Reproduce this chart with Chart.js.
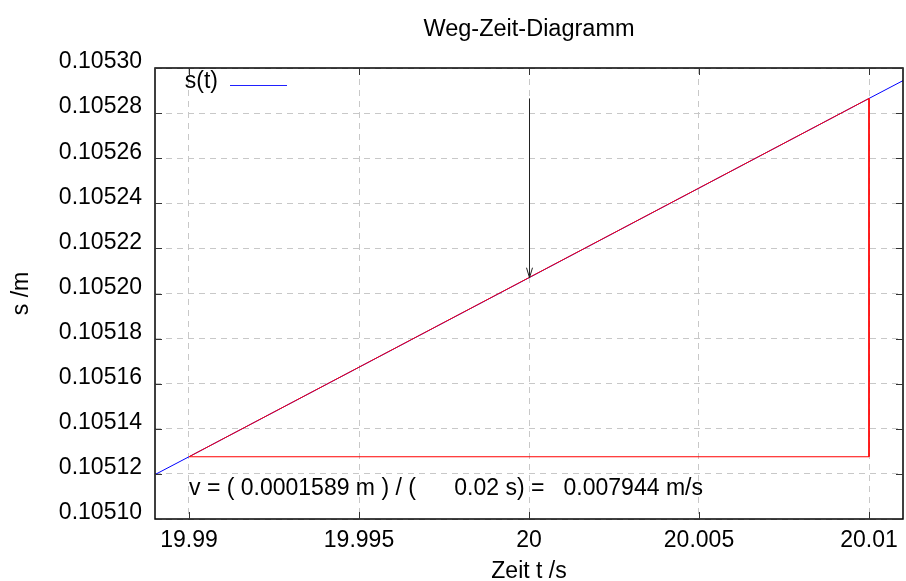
<!DOCTYPE html>
<html>
<head>
<meta charset="utf-8">
<script src="https://cdn.jsdelivr.net/npm/chart.js@4/dist/chart.umd.min.js"></script>
<style>
  html,body{margin:0;padding:0;background:#fff;}
  #wrap{width:906px;height:581px;}
</style>
</head>
<body>
<div id="wrap"><canvas id="chart"></canvas></div>
<script>
// Weg-Zeit-Diagramm: s(t) line with the slope triangle and the readout arrow.

const X_TICKS = [19.99, 19.995, 20, 20.005, 20.01];
const Y_TICKS = [0.10510, 0.10512, 0.10514, 0.10516, 0.10518, 0.10520, 0.10522, 0.10524, 0.10526, 0.10528, 0.10530];

// s(t)
const T_LINE = [19.989, 19.99, 20, 20.01, 20.011];
const S_LINE = [0.1051197, 0.1051276, 0.1052070, 0.1052865, 0.1052944];

// slope triangle (hypotenuse, vertical leg, horizontal leg)
const T_TRI = [19.99, 20.01, 20.01, 19.99];
const S_TRI = [0.1051276, 0.1052865, 0.1051276, 0.1051276];

// arrow pointing at s(20)
const ARROW_T = [20, 20];
const ARROW_S = [0.1052865, 0.1052070];

const V_TEXT = "v = ( 0.0001589 m ) / (      0.02 s) =   0.007944 m/s";
const V_TEXT_AT = [19.99, 0.1051134];

const FONT = '"Liberation Sans", Arial, sans-serif';
Chart.defaults.font.family = FONT;
Chart.defaults.color = "#000";

const pts = (xs, ys) => xs.map((x, i) => ({x, y: ys[i]}));

const extras = {
  id: "extras",
  afterDraw(c) {
    const {ctx, chartArea: a, scales: {x, y}} = c;
    ctx.save();

    // frame
    ctx.strokeStyle = "#000";
    ctx.lineWidth = 1.5;
    ctx.strokeRect(a.left, a.top, a.right - a.left, a.bottom - a.top);

    // inward tick marks on all four sides
    ctx.strokeStyle = "#333";
    ctx.lineWidth = 1;
    ctx.beginPath();
    X_TICKS.forEach(v => {
      const px = Math.round(x.getPixelForValue(v)) + 0.5;
      ctx.moveTo(px, a.top); ctx.lineTo(px, a.top + 7);
      ctx.moveTo(px, a.bottom); ctx.lineTo(px, a.bottom - 7);
    });
    Y_TICKS.forEach(v => {
      const py = Math.round(y.getPixelForValue(v)) + 0.5;
      ctx.moveTo(a.left, py); ctx.lineTo(a.left + 7, py);
      ctx.moveTo(a.right, py); ctx.lineTo(a.right - 7, py);
    });
    ctx.stroke();

    // arrow
    const ax = Math.round(x.getPixelForValue(ARROW_T[0])) + 0.5;
    const ay0 = y.getPixelForValue(ARROW_S[0]);
    const ay1 = y.getPixelForValue(ARROW_S[1]);
    ctx.strokeStyle = "#222";
    ctx.beginPath();
    ctx.moveTo(ax, ay0); ctx.lineTo(ax, ay1);
    ctx.moveTo(ax - 3, ay1 - 10); ctx.lineTo(ax, ay1); ctx.lineTo(ax + 3, ay1 - 10);
    ctx.stroke();

    // key
    ctx.font = "23px " + FONT;
    ctx.fillStyle = "#000";
    ctx.textAlign = "right";
    ctx.textBaseline = "middle";
    ctx.fillText("s(t)", a.left + 63, a.top + 14);
    ctx.strokeStyle = "#2020ff";
    ctx.beginPath();
    ctx.moveTo(a.left + 75, a.top + 17.5); ctx.lineTo(a.left + 132, a.top + 17.5);
    ctx.stroke();

    // velocity readout
    ctx.textAlign = "left";
    ctx.fillText(V_TEXT, x.getPixelForValue(V_TEXT_AT[0]), y.getPixelForValue(V_TEXT_AT[1]));
    ctx.restore();
  }
};

new Chart(document.getElementById("chart"), {
  type: "scatter",
  data: {
    datasets: [
      {label: "s(t)", data: pts(T_LINE, S_LINE), showLine: true, borderColor: "#0000ff",
       borderWidth: 1, pointRadius: 0, tension: 0, order: 2},
      {label: "Dreieck", data: pts(T_TRI, S_TRI), showLine: true, borderColor: "#ff0000",
       borderWidth: 1, pointRadius: 0, tension: 0, order: 1}
    ]
  },
  options: {
    responsive: true, maintainAspectRatio: false, animation: false,
    layout: {padding: {left: 0, right: 3, top: 0, bottom: 0}},
    plugins: {
      legend: {display: false},
      tooltip: {enabled: false},
      title: {display: true, text: "Weg-Zeit-Diagramm", fullSize: false, color: "#000",
              font: {size: 23.5, weight: "normal"}, padding: {top: 15, bottom: 24.8}}
    },
    scales: {
      x: {
        type: "linear", min: 19.989, max: 20.011,
        afterBuildTicks: s => { s.ticks = X_TICKS.map(v => ({value: v})); },
        afterFit: s => { s.height = 62; },
        ticks: {font: {size: 23}, padding: 8, maxRotation: 0, autoSkip: false,
                callback: v => String(v)},
        grid: {color: "#c8c8c8", lineWidth: 1, drawTicks: false},
        border: {display: false, dash: [6, 5]},
        title: {display: true, text: "Zeit t /s", font: {size: 23, lineHeight: 0.83}, padding: {top: 0, bottom: 0}}
      },
      y: {
        type: "linear", min: 0.10510, max: 0.10530,
        afterBuildTicks: s => { s.ticks = Y_TICKS.map(v => ({value: v})); },
        afterFit: s => { s.width = 155; },
        ticks: {font: {size: 23}, padding: 13, labelOffset: -6, autoSkip: false,
                callback: v => v.toFixed(5)},
        grid: {color: "#c8c8c8", lineWidth: 1, drawTicks: false},
        border: {display: false, dash: [6, 5]},
        title: {display: true, text: "s /m", font: {size: 23, lineHeight: 1}, padding: {top: 10, bottom: 0}}
      }
    }
  },
  plugins: [extras]
});
</script>
</body>
</html>
